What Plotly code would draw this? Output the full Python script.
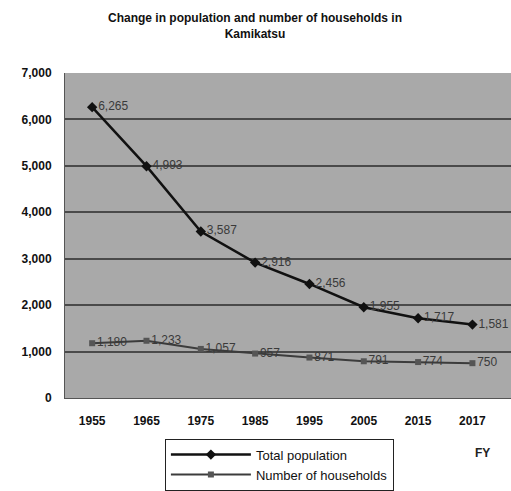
import plotly.graph_objects as go

years = ["1955", "1965", "1975", "1985", "1995", "2005", "2015", "2017"]
population = [6265, 4993, 3587, 2916, 2456, 1955, 1717, 1581]
households = [1180, 1233, 1057, 957, 871, 791, 774, 750]

font_family = "Liberation Sans, Arial, sans-serif"

fig = go.Figure()

fig.add_trace(go.Scatter(
    x=years, y=population, name="Total population",
    mode="lines+markers+text",
    line=dict(color="#111111", width=2.5),
    marker=dict(symbol="diamond", size=8, color="#111111"),
    text=[f"{v:,}" for v in population],
    textposition="middle right",
    textfont=dict(family=font_family, size=12, color="#3a3a3a"),
    cliponaxis=False,
))

fig.add_trace(go.Scatter(
    x=years, y=households, name="Number of households",
    mode="lines+markers+text",
    line=dict(color="#3c3c3c", width=2),
    marker=dict(symbol="square", size=6, color="#555555"),
    text=[f"{v:,}" for v in households],
    textposition="middle right",
    textfont=dict(family=font_family, size=12, color="#3a3a3a"),
    cliponaxis=True,
))

fig.update_layout(
    width=511, height=491,
    margin=dict(l=65, r=0, t=73, b=88),
    paper_bgcolor="white",
    plot_bgcolor="#a9a9a9",
    font=dict(family=font_family, color="black"),
    showlegend=True,
    legend=dict(
        x=0.224, y=-0.125, xanchor="left", yanchor="top",
        bordercolor="#222222", borderwidth=1,
        bgcolor="white",
        font=dict(size=13, family=font_family, color="#111111"),
        itemwidth=80,
        tracegroupgap=0,
    ),
    annotations=[
        dict(
            text="<b>Change in population and number of households in<br>Kamikatsu</b>",
            x=0.427, y=1.145, xref="paper", yref="paper",
            xanchor="center", yanchor="middle", showarrow=False,
            font=dict(size=12, family=font_family, color="#111111"),
        ),
        dict(
            text="<b>FY</b>", x=0.937, y=-0.17, xref="paper", yref="paper",
            xanchor="center", yanchor="middle",
            showarrow=False, font=dict(size=12, family=font_family, color="#222222"),
        ),
    ],
)

fig.update_xaxes(
    type="category", range=[-0.5, 7.71],
    showgrid=False, showline=True, linecolor="#555555", linewidth=1,
    ticks="", ticklabelstandoff=12,
    tickfont=dict(size=12, family=font_family, color="#111111", weight="bold"),
)
fig.update_yaxes(
    range=[0, 7000], dtick=1000, tickformat=",",
    showgrid=True, gridcolor="#4a4a4a", gridwidth=2,
    zeroline=False, showline=True, linecolor="#555555", linewidth=1,
    ticks="", ticklabelstandoff=10,
    tickfont=dict(size=12, family=font_family, color="#111111", weight="bold"),
)

fig.write_html("out.html")
